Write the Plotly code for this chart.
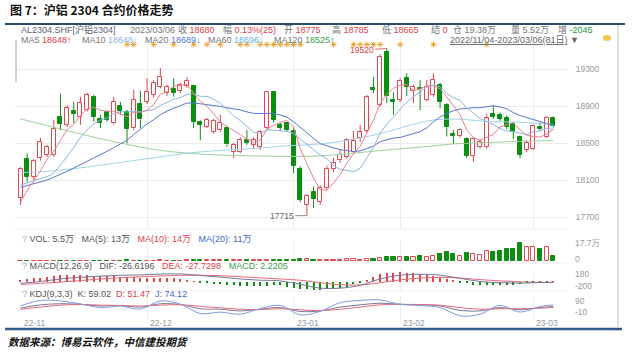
import plotly.graph_objects as go

W, H = 640, 356
FONT = "Liberation Sans, Noto Sans CJK SC, sans-serif"
CJK = "Noto Sans CJK SC, sans-serif"

# ---------------- data ----------------
n_days = 81
idx = list(range(n_days))
month_ticks = [0, 19, 41, 57, 77]
month_labels = ["22-11", "22-12", "23-01", "23-02", "23-03"]
price_ticks = [17700, 18100, 18500, 18900, 19300]

opens = [17910, 18325, 18135, 18335, 18370, 18370, 18780, 18695, 18850, 18785,
         18855, 19000, 18755, 18830, 18715, 18905, 18840, 18660, 18920, 18945,
         19020, 19110, 19040, 19080, 19065, 19115, 19115, 18730, 18675, 18620,
         18640, 18665, 18405, 18405, 18530, 18480, 18460, 18660, 19055, 18695,
         18715, 18630, 18220, 17835, 17965, 17865, 18010, 18220, 18315, 18350,
         18400, 18555, 18630, 19095, 18910, 19485, 18965, 18965, 19205, 19060,
         19090, 18965, 19020, 19125, 18915, 18600, 18575, 18545, 18360, 18460,
         18460, 18815, 18805, 18775, 18705, 18565, 18425, 18435, 18675, 18570,
         18775]
highs = [18240, 18390, 18330, 18555, 18480, 18750, 19035, 18910, 18945, 19000,
         19045, 19020, 18805, 18855, 19000, 18945, 18860, 19075, 19065, 19200,
         19180, 19310, 19130, 19200, 19150, 19215, 19130, 18745, 18770, 18760,
         18805, 18685, 18500, 18565, 18640, 18565, 18640, 19060, 19060, 18725,
         18730, 18675, 18250, 17950, 18030, 18045, 18255, 18340, 18425, 18550,
         18630, 18695, 19020, 19215, 19460, 19520, 19050, 19200, 19255, 19130,
         19180, 19180, 19255, 19150, 18930, 18640, 18660, 18560, 18565, 18545,
         18820, 18910, 18830, 18800, 18720, 18580, 18530, 18700, 18725, 18790,
         18785]
lows = [17830, 18080, 18100, 18310, 18350, 18350, 18640, 18670, 18715, 18695,
        18840, 18730, 18660, 18730, 18700, 18805, 18495, 18640, 18660, 18920,
        18990, 19090, 19010, 19000, 19040, 19095, 18660, 18530, 18660, 18600,
        18620, 18460, 18335, 18390, 18480, 18445, 18425, 18640, 18720, 18630,
        18620, 18175, 17860, 17715, 17795, 17830, 17990, 18185, 18285, 18330,
        18380, 18510, 18610, 19040, 18890, 18930, 18805, 18940, 19010, 18930,
        18855, 18950, 19000, 18875, 18570, 18490, 18560, 18340, 18295, 18440,
        18440, 18760, 18740, 18650, 18545, 18335, 18400, 18420, 18630, 18555,
        18665]
closes = [18220, 18135, 18305, 18515, 18460, 18650, 18705, 18880, 18815, 18930,
          19020, 18785, 18720, 18750, 18945, 18850, 18650, 18965, 18755, 19055,
          19145, 19215, 19110, 19045, 19125, 19175, 18730, 18695, 18750, 18740,
          18715, 18485, 18480, 18530, 18505, 18530, 18615, 19050, 18750, 18665,
          18640, 18255, 17885, 17930, 17895, 18015, 18220, 18280, 18370, 18530,
          18520, 18615, 19000, 19075, 19435, 19005, 18945, 19170, 19110, 19110,
          19080, 19110, 19185, 18945, 18675, 18580, 18640, 18360, 18545, 18515,
          18765, 18780, 18760, 18675, 18620, 18370, 18500, 18685, 18650, 18775,
          18680]

ma5 = [17860, 17990, 18090, 18200, 18327, 18413, 18527, 18642, 18702, 18796,
       18870, 18886, 18854, 18841, 18844, 18810, 18783, 18832, 18833, 18855,
       18914, 19027, 19056, 19114, 19128, 19134, 19037, 18954, 18895, 18818,
       18726, 18677, 18634, 18590, 18543, 18506, 18532, 18646, 18690, 18722,
       18744, 18672, 18439, 18275, 18121, 17996, 17989, 18068, 18156, 18283,
       18384, 18463, 18607, 18748, 18929, 19026, 19092, 19126, 19133, 19068,
       19083, 19116, 19119, 19086, 18999, 18899, 18805, 18640, 18560, 18528,
       18565, 18593, 18673, 18699, 18720, 18641, 18585, 18570, 18565, 18596,
       18648]
ma10 = [18045, 18070, 18095, 18115, 18135, 18175, 18260, 18355, 18450, 18562,
        18642, 18707, 18748, 18772, 18820, 18840, 18835, 18843, 18837, 18850,
        18862, 18905, 18944, 18974, 18992, 19024, 19032, 19005, 19005, 18973,
        18930, 18857, 18794, 18743, 18681, 18616, 18605, 18640, 18640, 18633,
        18625, 18602, 18543, 18483, 18422, 18370, 18331, 18254, 18216, 18202,
        18190, 18226, 18338, 18452, 18606, 18705, 18778, 18867, 18941, 18999,
        19055, 19104, 19123, 19110, 19034, 18991, 18961, 18880, 18823, 18764,
        18732, 18699, 18657, 18630, 18624, 18603, 18589, 18622, 18632, 18658,
        18648]
ma20 = [18020, 18040, 18060, 18080, 18100, 18130, 18160, 18195, 18230, 18265,
        18300, 18335, 18370, 18410, 18450, 18490, 18530, 18590, 18647, 18706,
        18752, 18806, 18846, 18873, 18906, 18932, 18933, 18924, 18921, 18911,
        18896, 18881, 18869, 18858, 18836, 18820, 18818, 18823, 18822, 18803,
        18778, 18730, 18668, 18613, 18551, 18493, 18468, 18447, 18428, 18417,
        18408, 18414, 18440, 18467, 18514, 18538, 18554, 18560, 18578, 18600,
        18622, 18665, 18730, 18781, 18820, 18848, 18869, 18873, 18882, 18881,
        18893, 18902, 18890, 18870, 18829, 18797, 18775, 18751, 18728, 18711,
        18689]
ma60_idx = [0, 5, 10, 15, 20, 25, 30, 35, 40, 45, 50, 55, 59, 62, 66, 70, 74, 78, 80]
ma60_val = [18180, 18200, 18240, 18290, 18340, 18390, 18420, 18440, 18470, 18490,
            18540, 18620, 18703, 18748, 18757, 18732, 18726, 18709, 18696]
ma120_idx = [0, 5, 10, 15, 20, 25, 30, 35, 40, 45, 50, 55, 60, 65, 70, 75, 80]
ma120_val = [18760, 18670, 18580, 18500, 18430, 18390, 18370, 18360, 18355, 18360,
             18390, 18425, 18455, 18490, 18505, 18518, 18525]

volume = [0.3, 0.3, 0.3, 0.4, 0.3, 0.4, 0.5, 0.4, 0.3, 0.4,
          0.4, 0.5, 0.4, 0.3, 0.5, 0.4, 0.6, 0.5, 0.5, 0.5,
          0.5, 0.6, 0.5, 0.5, 0.5, 0.6, 0.9, 0.7, 0.6, 0.6,
          0.6, 0.8, 0.7, 0.7, 0.6, 0.6, 0.7, 1.0, 0.9, 0.8,
          0.8, 1.6, 2.2, 1.8, 1.5, 1.4, 1.5, 1.3, 1.4, 1.8,
          1.9, 1.6, 2.4, 2.0, 3.0, 5.0, 5.0, 4.0, 4.2, 4.8,
          6.0, 5.0, 5.7, 7.5, 10.0, 7.5, 5.7, 8.7, 7.9, 6.8,
          11.7, 10.5, 11.7, 13.2, 13.2, 20.7, 16.2, 16.2, 13.2, 15.4,
          5.5]

macd_idx = [0, 3, 6, 9, 12, 15, 18, 21, 24, 27, 30, 33, 36, 39, 42, 45, 48, 51,
            54, 57, 60, 63, 66, 69, 72, 75, 78, 80]
dif = [-60, 0, 80, 135, 170, 195, 210, 235, 240, 190, 140, 80, 40, 20, -90, -210,
       -210, -120, 80, 200, 230, 200, 100, 0, -40, -50, -32, -26.6196]
dea = [-90, -60, -20, 30, 80, 120, 150, 175, 195, 200, 185, 150, 115, 80, 40, -40,
       -100, -110, -40, 50, 110, 130, 110, 60, 20, -10, -25, -27.7298]
macd_hist = [60, 80, 100, 120, 150, 180, 200, 205, 210, 210,
             200, 190, 180, 170, 160, 150, 140, 130, 120, 120,
             120, 120, 110, 100, 90, 50, 10, -20, -45, -70,
             -90, -110, -125, -140, -145, -150, -150, -130, -120, -120,
             -160, -200, -230, -250, -255, -255, -245, -235, -220, -160,
             -90, -20, 60, 150, 240, 270, 285, 300, 280, 260,
             240, 200, 170, 140, 80, 30, -20, -60, -100, -120,
             -120, -120, -120, -110, -95, -80, -60, -40, -14, -5,
             2.2205]

kdj_idx = [0, 3, 6, 9, 12, 15, 18, 21, 24, 27, 30, 33, 36, 39, 42, 45, 48, 51,
           54, 57, 60, 63, 66, 69, 72, 75, 78, 80]
k_vals = [45, 75, 85, 80, 65, 68, 55, 85, 78, 40, 35, 20, 35, 50, 15, 20, 55, 75,
          90, 80, 75, 65, 25, 20, 50, 30, 50, 59.02]
d_vals = [35, 55, 72, 78, 72, 70, 64, 72, 76, 62, 48, 35, 32, 40, 30, 22, 35, 55,
          75, 80, 78, 72, 50, 35, 40, 40, 45, 51.47]
j_vals = [65, 115, 111, 84, 51, 64, 37, 111, 82, -4, 9, -10, 41, 70, -15, 16, 95, 115,
          120, 80, 69, 51, -25, -10, 70, 10, 60, 74.12]

star_idx = [16, 17, 20, 23, 26, 28, 30, 33, 34, 36, 37, 38, 39, 40, 41, 42,
            47, 50, 51, 52, 53, 54, 57, 62, 70]

# ---------------- styling ----------------
UP = "#e5454f"
DN = "#0b8f12"
GRID = "#ececec"
C_MA5 = "#ee8090"
C_MA10 = "#8ab6e6"
C_MA20 = "#5577d4"
C_MA60 = "#9fd4ea"
C_MA120 = "#9ccf9c"


def fy(y):
    return 1 - y / H


def fx(x):
    return x / W


# pixel geometry
X_L, X_R = 15, 568
I0_PX, STEP = 20.5, 6.66
x_range = [(X_L - I0_PX) / STEP, (X_R - I0_PX) / STEP]

per_px = (19300 - 17700) / (217 - 69)
P_TOP, P_BOT = 36, 228
price_range = [19300 - (P_BOT - 69) * per_px, 19300 + (69 - P_TOP) * per_px]

V_TOP, V_BOT = 241, 261
vol_per_px = 1.13
vol_range = [0, (V_BOT - V_TOP) * vol_per_px]

M_TOP, M_BOT, M_ZERO, m_per_px = 270, 290, 281.5, 31.67
macd_range = [-(M_BOT - M_ZERO) * m_per_px, (M_ZERO - M_TOP) * m_per_px]

K_TOP, K_BOT, K_ZERO, k_per_px = 296, 319, 313.1, 9.09
kdj_range = [-(K_BOT - K_ZERO) * k_per_px, (K_ZERO - K_TOP) * k_per_px]

fig = go.Figure()

# candle wicks (split so hollow bodies stay clean)
up = [c >= o for o, c in zip(opens, closes)]
wx = {True: [], False: []}
wy = {True: [], False: []}
for i in idx:
    lo_b, hi_b = min(opens[i], closes[i]), max(opens[i], closes[i])
    wx[up[i]] += [i, i, None, i, i, None]
    wy[up[i]] += [lows[i], lo_b, None, hi_b, highs[i], None]
for flag, col in ((True, UP), (False, DN)):
    fig.add_trace(go.Scatter(x=wx[flag], y=wy[flag], mode="lines",
                             line=dict(color=col, width=1), hoverinfo="skip",
                             xaxis="x", yaxis="y"))

# candle bodies
bases = [min(o, c) for o, c in zip(opens, closes)]
heights = [max(abs(c - o), 8) for o, c in zip(opens, closes)]
fig.add_trace(go.Bar(x=idx, y=heights, base=bases, width=0.6,
                     marker=dict(color=["#ffffff" if u else DN for u in up],
                                 line=dict(color=[UP if u else DN for u in up], width=1)),
                     xaxis="x", yaxis="y"))

# moving averages
fig.add_trace(go.Scatter(x=ma120_idx, y=ma120_val, mode="lines", line=dict(color=C_MA120, width=1, shape="spline"), xaxis="x", yaxis="y"))
fig.add_trace(go.Scatter(x=ma60_idx, y=ma60_val, mode="lines", line=dict(color=C_MA60, width=1, shape="spline"), xaxis="x", yaxis="y"))
fig.add_trace(go.Scatter(x=idx, y=ma20, mode="lines", line=dict(color=C_MA20, width=1), xaxis="x", yaxis="y"))
fig.add_trace(go.Scatter(x=idx, y=ma10, mode="lines", line=dict(color=C_MA10, width=1), xaxis="x", yaxis="y"))
fig.add_trace(go.Scatter(x=idx, y=ma5, mode="lines", line=dict(color=C_MA5, width=1), xaxis="x", yaxis="y"))

# star markers (event flags)
star_y = 19300 + (69 - 44.5) * per_px
fig.add_trace(go.Scatter(x=star_idx, y=[star_y] * len(star_idx), mode="markers",
                         marker=dict(symbol="asterisk-open", size=5, color="#f0a53a",
                                     line=dict(color="#f0a53a", width=1)),
                         xaxis="x", yaxis="y"))

# volume
fig.add_trace(go.Bar(x=idx, y=volume, width=0.62,
                     marker=dict(color=["#ffffff" if u else DN for u in up],
                                 line=dict(color=[UP if u else DN for u in up], width=1)),
                     xaxis="x2", yaxis="y2"))

# MACD
fig.add_trace(go.Bar(x=idx, y=macd_hist, width=0.16,
                     marker=dict(color=[UP if v >= 0 else DN for v in macd_hist], line=dict(width=0)),
                     xaxis="x3", yaxis="y3"))
fig.add_trace(go.Scatter(x=macd_idx, y=dea, mode="lines", line=dict(color="#e86a78", width=1, shape="spline"), xaxis="x3", yaxis="y3"))
fig.add_trace(go.Scatter(x=macd_idx, y=dif, mode="lines", line=dict(color="#777799", width=1, shape="spline"), xaxis="x3", yaxis="y3"))

# KDJ
fig.add_trace(go.Scatter(x=kdj_idx, y=k_vals, mode="lines", line=dict(color="#777799", width=1, shape="spline"), xaxis="x4", yaxis="y4"))
fig.add_trace(go.Scatter(x=kdj_idx, y=d_vals, mode="lines", line=dict(color="#e86a78", width=1, shape="spline"), xaxis="x4", yaxis="y4"))
fig.add_trace(go.Scatter(x=kdj_idx, y=j_vals, mode="lines", line=dict(color="#7d9be6", width=1, shape="spline"), xaxis="x4", yaxis="y4"))

# ---------------- axes ----------------
xdom = [fx(X_L), fx(X_R)]
xcommon = dict(domain=xdom, range=x_range, showline=False, zeroline=False, showticklabels=False,
               tickvals=month_ticks[1:], showgrid=True, gridcolor=GRID, gridwidth=1, fixedrange=True)
layout_axes = {
    "xaxis": dict(xcommon, anchor="y"),
    "xaxis2": dict(xcommon, anchor="y2", matches="x"),
    "xaxis3": dict(xcommon, anchor="y3", matches="x"),
    "xaxis4": dict(xcommon, anchor="y4", matches="x"),
    "yaxis": dict(domain=[fy(P_BOT), fy(P_TOP)], range=price_range, side="right", anchor="x",
                  tickvals=price_ticks, ticktext=[str(v) for v in price_ticks], showgrid=True,
                  gridcolor=GRID, zeroline=False, showline=False, ticks="outside", ticklen=5,
                  tickcolor="rgba(0,0,0,0)", tickfont=dict(size=8.5, color="#9a9a9a", family=FONT)),
    "yaxis2": dict(domain=[fy(V_BOT), fy(V_TOP)], range=vol_range, anchor="x2", showgrid=False,
                   zeroline=False, showticklabels=False),
    "yaxis3": dict(domain=[fy(M_BOT), fy(M_TOP)], range=macd_range, anchor="x3", showgrid=False,
                   zeroline=False, showticklabels=False),
    "yaxis4": dict(domain=[fy(K_BOT), fy(K_TOP)], range=kdj_range, anchor="x4", showgrid=False,
                   zeroline=False, showticklabels=False),
}


def ann(x, y, text, size=8, color="#666", family=FONT, anchor="left", **kw):
    d = dict(x=fx(x), y=fy(y), xref="paper", yref="paper", text=text, showarrow=False,
             xanchor=anchor, yanchor="middle", font=dict(size=size, color=color, family=family))
    d.update(kw)
    return d


def sp(t, c):
    return "<span style='color:%s'>%s</span>" % (c, t)


NB = "\u00a0"
RED = "#e0404a"
GRY = "#777"
annotations = []
annotations.append(ann(8, 9, "<b>图 7：沪铝 2304 合约价格走势</b>", size=12, color="#111", family=CJK))
annotations.append(ann(6, 341, "<b><i>数据来源：博易云软件，中信建投期货</i></b>", size=10.5, color="#111", family=CJK))

# header line 1
hdr1 = [
    (19, sp("AL2304.SHF[沪铝2304]", "#5a6275")),
    (128, sp("2023/03/06", GRY)),
    (176, sp("收 ", GRY) + sp("18680", RED)),
    (221, sp("幅 ", GRY) + sp("0.13%(25)", RED)),
    (282, sp("开 ", GRY) + sp("18775", RED)),
    (330, sp("高 ", GRY) + sp("18785", RED)),
    (380, sp("低 ", GRY) + sp("18665", RED)),
    (429, sp("结 ", GRY) + sp("0", RED)),
    (451, sp("仓 19.38万", GRY)),
    (509, sp("量 5.52万", GRY)),
    (556, sp("增 ", GRY) + sp("-2045", "#1a9a3a")),
]
for x, t in hdr1:
    annotations.append(ann(x, 30, t, size=9))

hdr2 = [
    (19, sp("MA5 ", GRY) + sp("18648↑", RED)),
    (80, sp("MA10 ", GRY) + sp("18648↓", C_MA10)),
    (143, sp("MA20 ", GRY) + sp("18689↓", C_MA20)),
    (206, sp("MA60 ", GRY) + sp("18696↓", "#5fb8e0")),
    (272, sp("MA120 ", GRY) + sp("18525↑", "#3aa04a")),
]
for x, t in hdr2:
    annotations.append(ann(x, 39.5, t, size=9))
annotations.append(ann(448, 39.5, "<u>2022/11/04-2023/03/06(81日)</u> ▼", size=9, color="#666"))

# sub-panel headers
annotations.append(ann(20, 238.5, sp("?", "#aaa") + " VOL: 5.5万" + NB * 3 + "MA(5): 13万" + NB * 3 + sp("MA(10): 14万", RED) + NB * 3 + sp("MA(20): 11万", "#4466cc"), size=9, color="#555"))
annotations.append(ann(20, 266, sp("?", "#aaa") + " MACD(12,26,9)" + NB * 3 + "DIF: -26.6196" + NB * 3 + sp("DEA: -27.7298", RED) + NB * 3 + sp("MACD: 2.2205", "#3aa04a"), size=9, color="#555"))
annotations.append(ann(20, 293.5, sp("?", "#aaa") + " KDJ(9,3,3)" + NB * 2 + "K: 59.02" + NB * 2 + sp("D: 51.47", RED) + NB * 2 + sp("J: 74.12", "#4466cc"), size=9, color="#555"))

# small-panel axis labels
for yref, vals, texts in (("y2", [17.7, 0], ["17.7万", "0"]),
                          ("y3", [180, -200], ["180", "-200"]),
                          ("y4", [90, -10], ["90", "-10"])):
    for v, t in zip(vals, texts):
        annotations.append(dict(x=fx(573), y=v, xref="paper", yref=yref, text=t, showarrow=False,
                                xanchor="left", yanchor="middle", yshift=2,
                                font=dict(size=8.5, color="#9a9a9a", family=FONT)))

# month labels
for t, lab in zip(month_ticks, month_labels):
    annotations.append(dict(x=t, y=fy(323), xref="x4", yref="paper", text=lab, showarrow=False,
                            xanchor="left", yanchor="middle", xshift=1,
                            font=dict(size=8.5, color="#9a9a9a", family=FONT)))

# extreme labels
annotations.append(dict(x=55, y=19520, xref="x", yref="y", text="19520", showarrow=True, arrowhead=0,
                        arrowwidth=0.8, arrowcolor=RED, ax=-25, ay=1, font=dict(size=8.5, color=RED, family=FONT)))
annotations.append(dict(x=43, y=17715, xref="x", yref="y", text="17715", showarrow=True, arrowhead=0,
                        arrowwidth=0.8, arrowcolor="#777", ax=-25, ay=0, font=dict(size=8.5, color="#666", family=FONT)))

shapes = [
    dict(type="line", xref="paper", yref="paper", x0=fx(5), x1=fx(625), y0=fy(24), y1=fy(24),
         line=dict(color="#2a4a6e", width=2.2)),
    dict(type="line", xref="paper", yref="paper", x0=fx(5), x1=fx(622), y0=fy(329), y1=fy(329),
         line=dict(color="#2f5a8a", width=2.5)),
    dict(type="line", xref="paper", yref="paper", x0=fx(618), x1=fx(618), y0=fy(25), y1=fy(328),
         line=dict(color="#d4d4d4", width=1.5)),
    dict(type="rect", xref="paper", yref="paper", x0=fx(15), x1=fx(17), y0=fy(82), y1=fy(40),
         fillcolor="#d0d0d0", line=dict(width=0)),
    dict(type="line", xref="paper", yref="paper", x0=fx(X_L), x1=fx(X_R), y0=fy(229), y1=fy(229),
         line=dict(color="#eeeeee", width=1)),
    dict(type="line", xref="paper", yref="paper", x0=fx(X_L), x1=fx(X_R), y0=fy(263), y1=fy(263),
         line=dict(color="#f0f0f0", width=1)),
    dict(type="line", xref="paper", yref="paper", x0=fx(X_L), x1=fx(X_R), y0=fy(291), y1=fy(291),
         line=dict(color="#f0f0f0", width=1)),
    dict(type="circle", xref="paper", yref="paper", x0=fx(603), x1=fx(611), y0=fy(41), y1=fy(35),
         fillcolor="#f3c548", line=dict(width=0)),
]

fig.update_layout(
    width=W, height=H, margin=dict(l=0, r=0, t=0, b=0),
    paper_bgcolor="white", plot_bgcolor="white", showlegend=False,
    barmode="overlay", bargap=0, hovermode=False,
    font=dict(family=FONT, size=8, color="#666"),
    annotations=annotations, shapes=shapes,
    **layout_axes,
)

fig.write_html("out.html", config={"displayModeBar": False},
               post_script="document.body.style.margin='0px';document.body.style.padding='0px';")
